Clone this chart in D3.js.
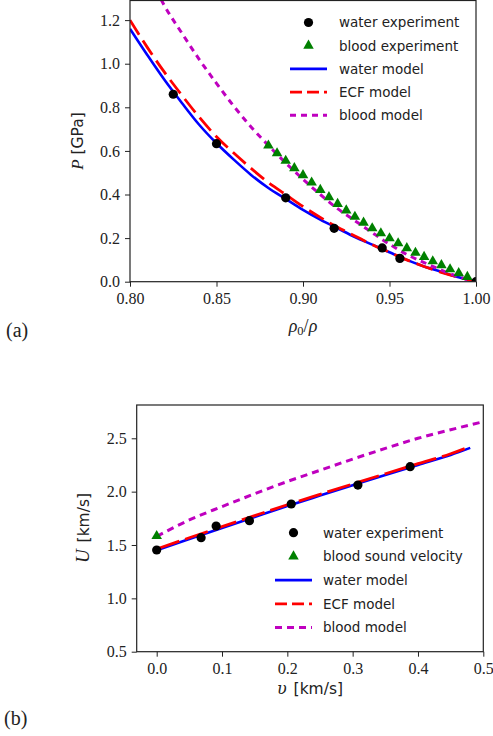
<!DOCTYPE html>
<html>
<head>
<meta charset="utf-8">
<script src="https://cdn.jsdelivr.net/npm/d3@7"></script>
<style>
  body { margin: 0; background: #fff; }
  .tick text { font-family: "Liberation Serif", serif; font-size: 16px; fill: #222; }
  .tick line { stroke: #222; }
  .leg { font-family: "DejaVu Sans", sans-serif; font-size: 13.5px; fill: #222; }
</style>
</head>
<body>
<div id="chart"></div>
<script>
// ---- panel (a): P vs rho0/rho ----
var waterExpRho = [0.825, 0.85, 0.89, 0.918, 0.9458, 0.956, 1.0];
var waterExpP = [0.86, 0.633, 0.385, 0.245, 0.155, 0.107, 0.0];

var bloodExpRho = [0.88, 0.885, 0.89, 0.895, 0.90, 0.905, 0.91, 0.915, 0.92, 0.925, 0.93, 0.935,
                   0.94, 0.945, 0.95, 0.955, 0.96, 0.965, 0.97, 0.975, 0.98, 0.985, 0.99, 0.995];
var bloodExpP = [0.625, 0.589, 0.555, 0.521, 0.489, 0.455, 0.421, 0.388, 0.357, 0.327, 0.298, 0.271,
                 0.245, 0.222, 0.199, 0.176, 0.154, 0.133, 0.114, 0.094, 0.076, 0.057, 0.039, 0.022];

var modelRho = [0.80, 0.81, 0.82, 0.83, 0.84, 0.85, 0.86, 0.87, 0.88, 0.89, 0.90,
                0.91, 0.92, 0.93, 0.94, 0.95, 0.96, 0.97, 0.98, 0.99, 1.00];
var waterModelP = [1.16, 1.04, 0.925, 0.82, 0.72, 0.635, 0.56, 0.49, 0.43, 0.38, 0.33,
                   0.285, 0.245, 0.205, 0.17, 0.135, 0.10, 0.07, 0.045, 0.02, 0.0];
var ecfModelP = [1.20, 1.075, 0.96, 0.855, 0.755, 0.665, 0.59, 0.52, 0.455, 0.40, 0.345,
                 0.295, 0.25, 0.21, 0.17, 0.135, 0.10, 0.07, 0.043, 0.02, 0.0];

var bloodModelRho = [0.815, 0.82, 0.83, 0.84, 0.85, 0.86, 0.87, 0.88, 0.89, 0.90,
                     0.91, 0.92, 0.93, 0.94, 0.95, 0.96, 0.97, 0.98, 0.99, 1.00];
var bloodModelP = [1.34, 1.265, 1.14, 1.02, 0.91, 0.805, 0.71, 0.625, 0.545, 0.47,
                   0.40, 0.335, 0.28, 0.225, 0.172, 0.125, 0.088, 0.053, 0.022, 0.0];

var aXTicks = [0.80, 0.85, 0.90, 0.95, 1.00];
var aYTicks = [0.0, 0.2, 0.4, 0.6, 0.8, 1.0, 1.2];
var aLegend = ["water experiment", "blood experiment", "water model", "ECF model", "blood model"];

// ---- panel (b): U vs v ----
var waterExpV = [0.0, 0.068, 0.091, 0.142, 0.206, 0.308, 0.388];
var waterExpU = [1.453, 1.569, 1.678, 1.728, 1.884, 2.062, 2.234];
var bloodSoundV = [0.0];
var bloodSoundU = [1.584];

var modelV = [0.0, 0.05, 0.10, 0.15, 0.20, 0.25, 0.30, 0.35, 0.40, 0.45, 0.48];
var waterModelU = [1.45, 1.556, 1.66, 1.763, 1.865, 1.963, 2.06, 2.156, 2.25, 2.343, 2.41];
var ecfModelU = [1.462, 1.568, 1.672, 1.775, 1.877, 1.975, 2.072, 2.168, 2.262, 2.355, 2.424];

var bloodModelV = [0.0, 0.05, 0.10, 0.15, 0.20, 0.25, 0.30, 0.35, 0.40, 0.45, 0.50];
var bloodModelU = [1.58, 1.735, 1.86, 1.98, 2.095, 2.20, 2.305, 2.405, 2.50, 2.58, 2.655];

var bXTicks = [0.0, 0.1, 0.2, 0.3, 0.4, 0.5];
var bYTicks = [0.5, 1.0, 1.5, 2.0, 2.5];
var bLegend = ["water experiment", "blood sound velocity", "water model", "ECF model", "blood model"];

var colors = { water: "#0000ff", ecf: "#ff0000", blood: "#bf00bf", tri: "#008000", dot: "#000" };

var svg = d3.select("#chart").append("svg")
    .attr("width", 493)
    .attr("height", 736);

var zip = (a, b) => a.map((d, i) => [d, b[i]]);

function panel(opt) {
    var x = d3.scaleLinear().domain(opt.xDomain).range([opt.left, opt.right]);
    var y = d3.scaleLinear().domain(opt.yDomain).range([opt.bottom, opt.top]);

    svg.append("clipPath").attr("id", opt.id)
        .append("rect")
        .attr("x", opt.left).attr("y", opt.top)
        .attr("width", opt.right - opt.left).attr("height", opt.bottom - opt.top);

    var g = svg.append("g").attr("clip-path", `url(#${opt.id})`);
    var line = d3.line().x(d => x(d[0])).y(d => y(d[1])).curve(d3.curveMonotoneX);

    opt.lines.forEach(function (l) {
        g.append("path")
            .attr("d", line(l.data))
            .attr("fill", "none")
            .attr("stroke", l.color)
            .attr("stroke-width", l.width)
            .attr("stroke-dasharray", l.dash || null);
    });

    g.selectAll(".tri").data(opt.tris).enter().append("path")
        .attr("transform", d => `translate(${x(d[0])},${y(d[1])})`)
        .attr("d", d3.symbol().type(d3.symbolTriangle).size(48))
        .attr("fill", colors.tri);

    g.selectAll(".dot").data(opt.dots).enter().append("circle")
        .attr("cx", d => x(d[0]))
        .attr("cy", d => y(d[1]))
        .attr("r", 4.6)
        .attr("fill", colors.dot);

    svg.append("g")
        .attr("transform", `translate(0,${opt.bottom})`)
        .call(d3.axisBottom(x).tickValues(opt.xTicks).tickFormat(d3.format(opt.xFmt))
            .tickSizeOuter(0).tickSize(5).tickPadding(5))
        .call(a => a.select(".domain").remove())
        .selectAll("text").attr("dy", "0.8em");

    svg.append("g")
        .attr("transform", `translate(${opt.left},0)`)
        .call(d3.axisLeft(y).tickValues(opt.yTicks).tickFormat(d3.format(".1f"))
            .tickSizeOuter(0).tickSize(5).tickPadding(5))
        .call(a => a.select(".domain").remove());

    svg.append("rect")
        .attr("x", opt.left).attr("y", opt.top)
        .attr("width", opt.right - opt.left).attr("height", opt.bottom - opt.top)
        .attr("fill", "none").attr("stroke", "#222").attr("stroke-width", 1.2);

    // legend
    var lg = svg.append("g");
    opt.legend.forEach(function (name, i) {
        var ly = opt.legY + i * opt.legStep;
        var cx = (opt.legX0 + opt.legX1) / 2;
        if (i === 0) {
            lg.append("circle").attr("cx", cx).attr("cy", ly).attr("r", 4.6).attr("fill", colors.dot);
        } else if (i === 1) {
            lg.append("path").attr("transform", `translate(${cx},${ly})`)
                .attr("d", d3.symbol().type(d3.symbolTriangle).size(48)).attr("fill", colors.tri);
        } else {
            var l = opt.lines[i - 2];
            lg.append("line")
                .attr("x1", opt.legX0).attr("x2", opt.legX1)
                .attr("y1", ly).attr("y2", ly)
                .attr("stroke", l.color).attr("stroke-width", l.width)
                .attr("stroke-dasharray", l.legDash || l.dash || null);
        }
        lg.append("text").attr("class", "leg")
            .attr("x", opt.legText).attr("y", ly)
            .attr("dy", "0.36em")
            .text(name);
    });
}

panel({
    id: "clipA", left: 130, right: 476, top: 0.5, bottom: 281.7,
    xDomain: [0.8, 1.0], yDomain: [0, 1.29],
    xTicks: aXTicks, yTicks: aYTicks, xFmt: ".2f",
    dots: zip(waterExpRho, waterExpP),
    tris: zip(bloodExpRho, bloodExpP),
    lines: [
        { data: zip(modelRho, waterModelP), color: colors.water, width: 2.6 },
        { data: zip(modelRho, ecfModelP), color: colors.ecf, width: 2.8, dash: "17,7", legDash: "12,5" },
        { data: zip(bloodModelRho, bloodModelP), color: colors.blood, width: 3, dash: "6,5" }
    ],
    legend: aLegend, legX0: 290, legX1: 327, legText: 339, legY: 22.5, legStep: 23.2
});

panel({
    id: "clipB", left: 136.7, right: 483.3, top: 405, bottom: 651.7,
    xDomain: [-0.0306, 0.5], yDomain: [0.5, 2.812],
    xTicks: bXTicks, yTicks: bYTicks, xFmt: ".1f",
    dots: zip(waterExpV, waterExpU),
    tris: zip(bloodSoundV, bloodSoundU),
    lines: [
        { data: zip(modelV, waterModelU), color: colors.water, width: 2.6 },
        { data: zip(modelV, ecfModelU), color: colors.ecf, width: 2.8, dash: "24,6", legDash: "12,5" },
        { data: zip(bloodModelV, bloodModelU), color: colors.blood, width: 3, dash: "7,5" }
    ],
    legend: bLegend, legX0: 275, legX1: 312, legText: 323, legY: 532.7, legStep: 23.7
});

// axis labels
var serif = "'Liberation Serif', serif";
var greek = "'DejaVu Serif', serif";
var sans = "'DejaVu Sans', sans-serif";

var yla = svg.append("text")
    .attr("transform", "translate(83,141) rotate(-90)")
    .attr("text-anchor", "middle").attr("font-size", 17).attr("fill", "#222");
yla.append("tspan").attr("font-family", serif).attr("font-style", "italic").text("P");
yla.append("tspan").attr("font-family", sans).attr("font-size", 15.5).text(" [GPa]");

var xla = svg.append("text")
    .attr("x", 303).attr("y", 332)
    .attr("text-anchor", "middle").attr("font-size", 18).attr("fill", "#222")
    .attr("font-family", serif);
xla.append("tspan").attr("font-style", "italic").text("ρ");
xla.append("tspan").attr("font-size", 12.5).attr("dy", 3).text("0");
xla.append("tspan").attr("dy", -3).text("/");
xla.append("tspan").attr("font-style", "italic").text("ρ");

var ylb = svg.append("text")
    .attr("transform", "translate(89,528) rotate(-90)")
    .attr("text-anchor", "middle").attr("font-size", 17).attr("fill", "#222");
ylb.append("tspan").attr("font-family", serif).attr("font-style", "italic").attr("font-size", 19).text("U");
ylb.append("tspan").attr("font-family", sans).attr("font-size", 15.5).attr("dx", 2).text(" [km/s]");

var xlb = svg.append("text")
    .attr("x", 310).attr("y", 694)
    .attr("text-anchor", "middle").attr("font-size", 17).attr("fill", "#222");
xlb.append("tspan").attr("font-family", greek).attr("font-style", "italic").attr("font-size", 16).text("υ");
xlb.append("tspan").attr("font-family", sans).attr("font-size", 15.5).attr("dx", 2).text(" [km/s]");

svg.append("text").attr("x", 6).attr("y", 337)
    .attr("font-family", serif).attr("font-size", 20).attr("fill", "#222").text("(a)");
svg.append("text").attr("x", 4).attr("y", 725)
    .attr("font-family", serif).attr("font-size", 20).attr("fill", "#222").text("(b)");
</script>
</body>
</html>
